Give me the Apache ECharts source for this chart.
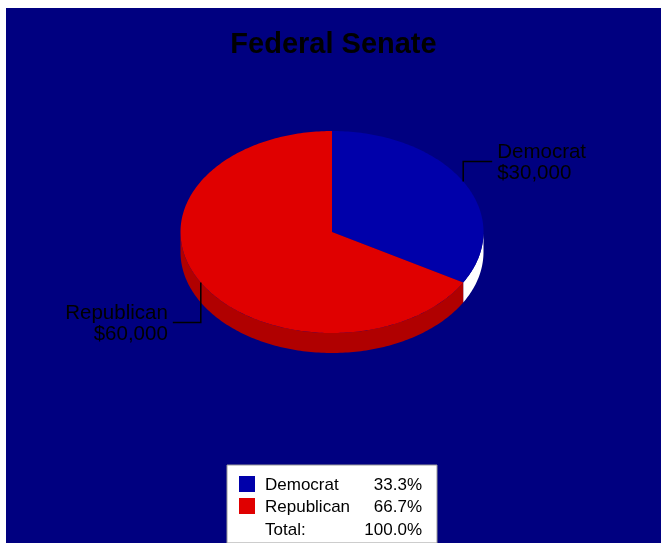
<!DOCTYPE html>
<html>
<head>
<meta charset="utf-8">
<script src="https://cdn.jsdelivr.net/npm/echarts@6/dist/echarts.min.js"></script>
<style>
  html, body { margin: 0; padding: 0; background: #ffffff; }
  #chart { position: absolute; left: 6px; top: 8px; width: 655px; height: 535px; }
</style>
</head>
<body>
<div id="chart"></div>
<script>
// ---- data ----
const categories = ['Democrat', 'Republican'];
const values = [30000, 60000];
const titleText = 'Federal Senate';
const totalLabel = 'Total:';

// ---- styles ----
const topColors = ['#0000AA', '#E00000'];
const sideColors = ['#FFFFFF', '#B00000'];
const bgColor = '#000080';

const total = values.reduce((a, b) => a + b, 0);
const pct = values.map(v => (v / total * 100).toFixed(1) + '%');
const fmtMoney = v => '$' + v.toLocaleString('en-US');

// pie geometry (layout)
const CX = 326, CY = 224, RX = 151.5, RY = 101, DEPTH = 20;

function arcPts(a0, a1, dy) {
  const pts = [];
  const n = Math.max(2, Math.ceil(Math.abs(a1 - a0) / (Math.PI / 180)));
  for (let i = 0; i <= n; i++) {
    const a = a0 + (a1 - a0) * i / n;
    pts.push([CX + RX * Math.cos(a), CY + RY * Math.sin(a) + dy]);
  }
  return pts;
}

function renderItem(params, api) {
  const idx = params.dataIndex;
  let start = -Math.PI / 2;
  for (let i = 0; i < idx; i++) start += values[i] / total * Math.PI * 2;
  const sweep = api.value(0) / total * Math.PI * 2;
  const end = start + sweep;
  const children = [];

  // side face (visible front half: angles 0..PI in screen coords)
  const s0 = Math.max(start, 0), s1 = Math.min(end, Math.PI);
  if (s1 > s0) {
    const topArc = arcPts(s0, s1, 0);
    const botArc = arcPts(s0, s1, DEPTH).reverse();
    children.push({
      type: 'polygon', z2: 1,
      shape: { points: topArc.concat(botArc) },
      style: { fill: sideColors[idx], stroke: null }
    });
  }
  // top face
  children.push({
    type: 'polygon', z2: 10,
    shape: { points: [[CX, CY]].concat(arcPts(start, end, 0)) },
    style: { fill: topColors[idx], stroke: null }
  });

  // label with elbow leader
  const mid = (start + end) / 2;
  const px = CX + RX * Math.cos(mid), py = CY + RY * Math.sin(mid);
  const right = Math.cos(mid) >= 0;
  const below = Math.sin(mid) > 0;
  const ey = below ? py + DEPTH + 20 : py - 20;
  const ex = right ? px + 29 : px - 28;
  children.push({
    type: 'polyline', z2: 20,
    shape: { points: [[px, py], [px, ey], [ex, ey]] },
    style: { stroke: '#000000', lineWidth: 1.5, fill: null }
  });
  children.push({
    type: 'text', z2: 20,
    x: right ? ex + 5 : ex - 5, y: ey + 1,
    style: {
      text: categories[idx] + '\n' + fmtMoney(api.value(0)),
      fill: '#000000',
      font: '20.5px "Liberation Sans", Arial, sans-serif',
      lineHeight: 21,
      align: right ? 'left' : 'right',
      verticalAlign: 'middle'
    }
  });
  return { type: 'group', children };
}

// legend built from the data
const LX = 221, LY = 457, LW = 210, LH = 78;
const legendChildren = [{
  type: 'rect', shape: { x: LX, y: LY, width: LW, height: LH },
  style: { fill: '#FFFFFF', stroke: '#9a9a9a', lineWidth: 1 }
}];
const rowY = [476, 498, 521];
const legendFont = '17px "Liberation Sans", Arial, sans-serif';
categories.forEach((c, i) => {
  legendChildren.push({
    type: 'rect', shape: { x: 233, y: rowY[i] - 8, width: 16, height: 16 },
    style: { fill: topColors[i] }
  });
  legendChildren.push({
    type: 'text', x: 259, y: rowY[i] + 1,
    style: { text: c, font: legendFont, fill: '#000', align: 'left', verticalAlign: 'middle' }
  });
  legendChildren.push({
    type: 'text', x: 416, y: rowY[i] + 1,
    style: { text: pct[i], font: legendFont, fill: '#000', align: 'right', verticalAlign: 'middle' }
  });
});
legendChildren.push({
  type: 'text', x: 259, y: rowY[2] + 1,
  style: { text: totalLabel, font: legendFont, fill: '#000', align: 'left', verticalAlign: 'middle' }
});
legendChildren.push({
  type: 'text', x: 416, y: rowY[2] + 1,
  style: { text: (100).toFixed(1) + '%', font: legendFont, fill: '#000', align: 'right', verticalAlign: 'middle' }
});

const chart = echarts.init(document.getElementById('chart'), null, { renderer: 'canvas' });
chart.setOption({
  backgroundColor: bgColor,
  animation: false,
  title: {
    text: titleText, left: 'center', top: 17,
    textStyle: { color: '#000000', fontSize: 29, fontWeight: 'bold', fontFamily: '"Liberation Sans", Arial, sans-serif' }
  },
  graphic: [{ type: 'group', children: legendChildren }],
  series: [{
    type: 'custom',
    coordinateSystem: 'none',
    renderItem: renderItem,
    data: values.map((v, i) => ({ name: categories[i], value: [v] }))
  }]
});
</script>
</body>
</html>
